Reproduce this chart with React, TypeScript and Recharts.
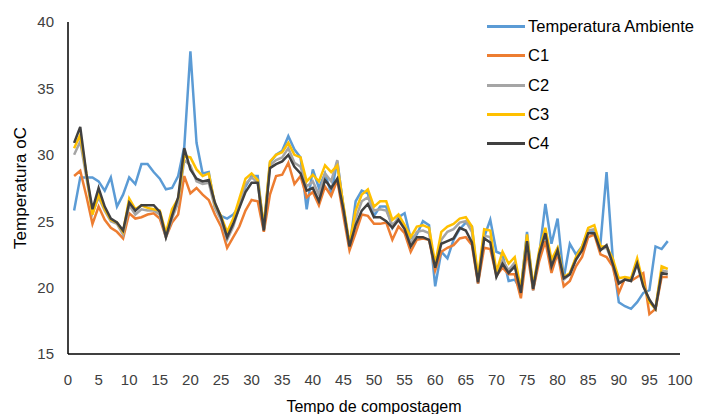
import React from 'react';
import { LineChart, Line, XAxis, YAxis } from 'recharts';

const days = [1,2,3,4,5,6,7,8,9,10,11,12,13,14,15,16,17,18,19,20,21,22,23,24,25,26,27,28,29,30,31,32,33,34,35,36,37,38,39,40,41,42,43,44,45,46,47,48,49,50,51,52,53,54,55,56,57,58,59,60,61,62,63,64,65,66,67,68,69,70,71,72,73,74,75,76,77,78,79,80,81,82,83,84,85,86,87,88,89,90,91,92,93,94,95,96,97,98];

const ambiente = [25.8,28.3,28.3,28.3,28.0,27.3,28.3,26.1,27.0,28.3,27.8,29.3,29.3,28.7,28.2,27.4,27.5,28.4,30.6,37.8,30.9,28.6,28.7,26.1,25.4,25.2,25.5,26.1,27.6,28.4,28.4,24.4,29.4,30.0,30.3,31.4,30.4,29.8,25.9,28.9,27.5,28.6,27.1,29.5,26.1,23.0,26.5,27.3,27.1,25.4,26.1,26.1,24.5,25.3,25.6,23.7,24.0,25.0,24.7,20.1,22.7,22.2,23.6,24.4,24.9,24.6,20.3,23.8,25.1,22.7,22.5,20.5,20.6,19.8,24.2,19.8,22.5,26.3,23.3,25.2,20.7,23.3,22.5,23.1,24.3,24.2,23.3,28.7,22.3,18.9,18.6,18.4,18.9,19.6,19.8,23.1,22.9,23.5];

const c1 = [28.4,28.8,26.9,24.8,26.1,25.1,24.5,24.2,23.7,25.6,25.2,25.3,25.5,25.6,25.2,23.8,24.9,25.5,28.4,27.1,27.5,27.0,26.6,25.5,24.6,23.0,23.8,24.6,25.8,26.6,26.5,24.2,27.0,28.4,28.5,29.4,27.8,28.4,26.8,27.2,26.2,27.6,26.9,28.1,25.4,22.8,24.1,25.5,25.4,24.8,24.8,24.9,23.6,24.6,24.1,22.7,23.6,23.7,23.6,21.3,22.7,23.0,23.2,23.7,23.8,23.2,20.3,23.0,22.9,20.9,21.5,21.0,21.0,19.2,22.8,19.8,22.0,23.5,21.1,22.6,20.1,20.5,21.6,22.3,23.8,24.0,22.5,22.3,21.6,19.6,20.7,20.5,20.8,21.1,18.0,18.4,20.8,20.8];

const c2 = [30.0,31.0,28.3,25.6,26.8,25.8,25.0,24.8,24.0,26.2,25.5,25.9,25.8,25.8,25.5,23.8,25.2,26.4,29.6,29.2,28.0,27.8,27.9,26.0,25.1,23.6,24.6,26.1,27.8,28.3,27.9,24.4,29.2,29.6,29.8,30.5,29.4,29.1,27.6,28.0,27.0,28.6,28.0,29.6,26.0,23.2,25.2,26.5,26.8,25.8,25.9,25.8,24.7,25.2,24.6,23.3,24.2,24.3,24.1,21.6,23.6,24.2,24.4,24.9,25.0,24.2,20.6,23.9,23.8,21.0,22.1,21.3,21.9,19.7,23.6,20.0,22.6,24.2,21.8,22.9,20.6,21.0,22.2,22.9,24.3,24.4,22.9,23.0,21.9,20.4,20.6,20.5,21.9,20.2,19.0,18.5,21.3,21.2];

const c3 = [30.5,31.5,28.6,25.5,27.0,25.9,25.1,24.9,24.2,26.7,25.9,26.2,26.0,25.9,25.8,24.1,25.9,26.7,29.9,29.8,28.9,28.4,28.6,26.3,25.4,24.2,25.2,26.7,28.2,28.6,28.1,24.6,29.5,30.0,30.2,30.9,30.0,29.8,28.0,28.5,28.0,29.2,28.7,29.2,26.2,23.3,25.8,27.0,27.4,26.1,26.5,26.5,25.1,25.5,24.7,23.8,24.6,24.7,24.5,21.8,24.2,24.6,24.8,25.2,25.3,24.6,20.8,24.4,24.3,21.2,22.7,21.8,22.3,19.9,24.0,20.1,22.8,24.5,22.1,23.0,20.8,21.1,22.3,23.1,24.5,24.7,23.1,23.1,22.2,20.7,20.8,20.7,22.2,20.3,18.9,18.4,21.6,21.4];

const c4 = [30.9,32.1,28.6,25.9,27.5,26.1,25.2,24.9,24.3,26.4,25.8,26.2,26.2,26.2,25.7,23.8,25.4,26.8,30.5,28.9,28.2,28.0,28.1,26.4,25.3,23.8,24.8,26.0,27.2,27.9,27.9,24.3,29.0,29.3,29.5,30.0,29.1,28.6,27.3,27.5,26.5,28.1,27.5,28.2,25.9,23.1,24.7,25.8,26.3,25.3,25.3,25.0,24.5,25.1,24.4,23.1,23.8,23.8,23.6,21.5,23.3,23.5,23.7,24.5,24.3,23.4,20.4,23.7,23.4,20.8,21.8,21.1,21.6,19.6,23.5,19.9,22.5,24.1,21.6,22.8,20.7,21.0,22.1,22.8,24.1,24.1,22.8,23.2,21.8,20.3,20.6,20.5,21.8,20.1,19.1,18.4,21.1,21.0];

const xTicks = [0,5,10,15,20,25,30,35,40,45,50,55,60,65,70,75,80,85,90,95,100];
const yTicks = [15,20,25,30,35,40];

const seriesNames = ['Temperatura Ambiente', 'C1', 'C2', 'C3', 'C4'];
const seriesKeys = ['amb', 'c1', 'c2', 'c3', 'c4'];
const seriesColors = ['#5B9BD5', '#ED7D31', '#A5A5A5', '#FFC000', '#404040'];

const data = days.map((d, i) => ({
  day: d,
  amb: ambiente[i],
  c1: c1[i],
  c2: c2[i],
  c3: c3[i],
  c4: c4[i],
}));

const FONT = 'Arial, "Liberation Sans", sans-serif';

export default function App() {
  return (
    <div style={{ position: 'relative', width: 694, height: 406, background: '#fff' }}>
      <LineChart width={694} height={406} data={data} margin={{ top: 14, right: 22, bottom: 0, left: 20 }}>
        <XAxis
          dataKey="day"
          type="number"
          domain={[0, 100]}
          ticks={xTicks}
          interval={0}
          tickLine={false}
          axisLine={{ stroke: '#000', strokeWidth: 1.5 }}
          tick={{ fill: '#404040', fontSize: 15, fontFamily: FONT }}
          tickMargin={14}
          height={60}
          label={{ value: 'Tempo de compostagem', position: 'insideBottom', offset: 2, fill: '#000', fontSize: 16, fontFamily: FONT }}
        />
        <YAxis
          type="number"
          domain={[15, 40]}
          ticks={yTicks}
          interval={0}
          tickLine={false}
          axisLine={{ stroke: '#000', strokeWidth: 1.5 }}
          tick={{ fill: '#404040', fontSize: 15, fontFamily: FONT }}
          tickMargin={8}
          width={40}
          label={{ value: 'Temperatura oC', angle: -90, position: 'insideLeft', offset: -8, fill: '#000', fontSize: 17, fontFamily: FONT, style: { textAnchor: 'middle' } }}
        />
        {seriesKeys.map((k, i) => (
          <Line
            key={k}
            type="linear"
            dataKey={k}
            name={seriesNames[i]}
            stroke={seriesColors[i]}
            strokeWidth={2.5}
            dot={false}
            isAnimationActive={false}
          />
        ))}
      </LineChart>
      <div style={{ position: 'absolute', top: 4, left: 479, fontFamily: FONT, fontSize: 16.5, color: '#000' }}>
        {seriesNames.map((n, i) => (
          <div key={n} style={{ display: 'flex', alignItems: 'center', height: 29.3 }}>
            <div style={{ width: 38, height: 3, background: seriesColors[i], marginRight: 3 }} />
            <span>{n}</span>
          </div>
        ))}
      </div>
    </div>
  );
}
